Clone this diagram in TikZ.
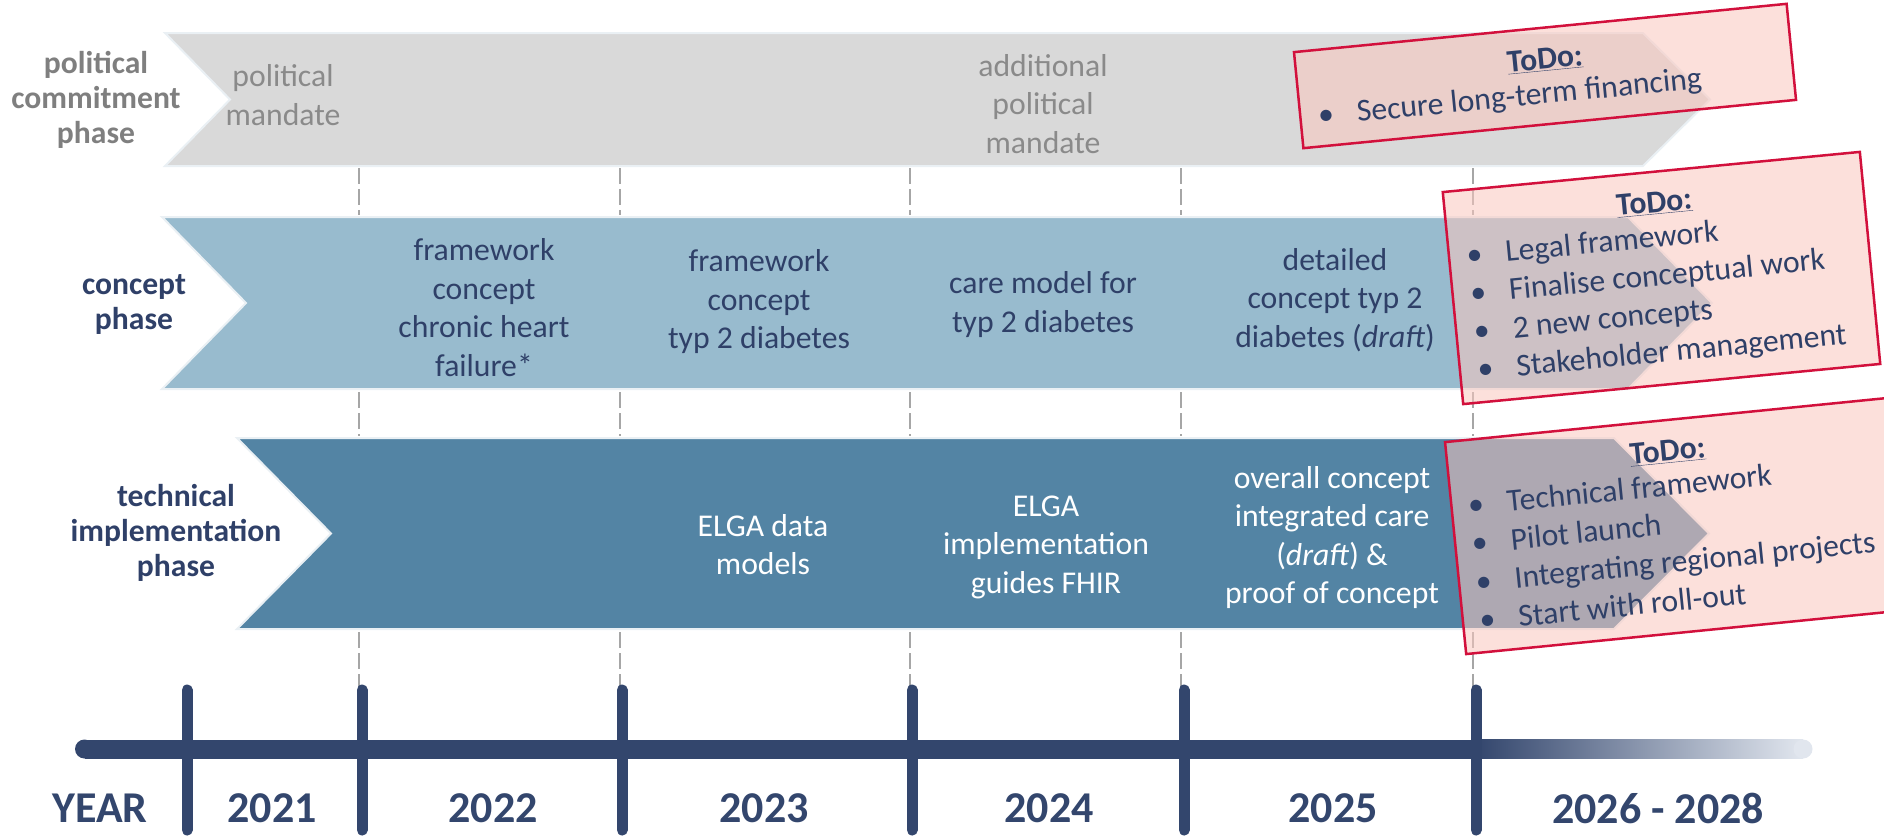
\documentclass[tikz,border=0pt]{standalone}
\usepackage{fontspec}
\setmainfont{Carlito}
\definecolor{navy}{HTML}{33466D}
\definecolor{navytext}{HTML}{2F4068}
\definecolor{polgray}{HTML}{D9D9D9}
\definecolor{poltext}{HTML}{8A8A8A}
\definecolor{pollabel}{HTML}{7F7F7F}
\definecolor{concfill}{HTML}{98BBCE}
\definecolor{techfill}{HTML}{5384A4}
\definecolor{pinkfill}{RGB}{250,199,190}
\definecolor{crimson}{HTML}{D2103C}
\definecolor{dashgray}{HTML}{A6A6A6}
\definecolor{fadeend}{HTML}{E1E6EE}
\definecolor{bandedge}{HTML}{EAF0F4}
\begin{document}
\begin{tikzpicture}[x=1pt,y=-1pt,
  bandtext/.style={align=center, font=\fontsize{31.7}{38.5}\selectfont, inner sep=0pt},
  phaselabel/.style={align=center, font=\bfseries\fontsize{31.6}{35}\selectfont, inner sep=0pt},
  yearlabel/.style={font=\bfseries\fontsize{44}{50}\selectfont, text=navy, inner sep=0pt},
  yeardash/.style={dashgray, line width=2pt, dash pattern=on 16pt off 5pt},
  yeartick/.style={navy, line width=11pt, line cap=round},
  bandshape/.style={draw=bandedge, line width=2pt},
  todobox/.style={draw=crimson, line width=2.5pt, fill=pinkfill, fill opacity=0.55, inner sep=0pt},
  todohead/.style={font=\bfseries\fontsize{31.7}{38}\selectfont, text=navytext, inner sep=0pt, anchor=base},
  todoitem/.style={font=\fontsize{31.7}{38}\selectfont, text=navytext, inner sep=0pt, anchor=base west},
]
\useasboundingbox (0,0) rectangle (1884,836);

% ---- bands
\path[bandshape, fill=polgray] (165,33) -- (1643,33) -- (1710,99.5) -- (1643,166) -- (165,166) -- (230,99.5) -- cycle;
\path[bandshape, fill=concfill] (162,217) -- (1628,217) -- (1712,303) -- (1628,389) -- (162,389) -- (246,303) -- cycle;
\path[bandshape, fill=techfill] (237,438) -- (1614,438) -- (1709,533.5) -- (1614,629) -- (237,629) -- (331,533.5) -- cycle;

% ---- dashed year separators
\foreach \x in {359,620,910,1181,1473}{
  \draw[yeardash] (\x,168) -- (\x,215);
  \draw[yeardash] (\x,392) -- (\x,436);
  \draw[yeardash] (\x,632) -- (\x,690);
}

% ---- phase labels
\node[phaselabel, text=pollabel] (lpol) at (96,100) {political\\commitment\\phase};
\node[phaselabel, text=navytext] (lcon) at (134,304.5) {concept\\phase};
\node[phaselabel, text=navytext] (ltec) at (176,533) {technical\\implementation\\phase};

% ---- political texts
\node[bandtext, text=poltext] (p1) at (283,95) {political\\mandate};
\node[bandtext, text=poltext] (p2) at (1043,104) {additional\\political\\mandate};

% ---- concept texts
\node[bandtext, text=navytext] (c1) at (484,307.5) {framework\\concept\\chronic heart\\failure*};
\node[bandtext, text=navytext] (c2) at (759,302) {framework\\concept\\typ 2 diabetes};
\node[bandtext, text=navytext] (c3) at (1043,304.5) {care model for\\typ 2 diabetes};
\node[bandtext, text=navytext] (c4) at (1335,300) {detailed\\concept typ 2\\diabetes (\textit{draft})};

% ---- technical texts
\node[bandtext, text=white] (t1) at (763,544.5) {ELGA data\\models};
\node[bandtext, text=white] (t2) at (1046,547) {ELGA\\implementation\\guides FHIR};
\node[bandtext, text=white] (t3) at (1332,537.5) {overall concept\\integrated care\\(\textit{draft}) \&\\proof of concept};

% ---- ToDo box 1
\begin{scope}[shift={(1545,76)}, rotate=5.6, transform shape]
  \node[todobox, minimum width=495pt, minimum height=96.5pt] (b1) at (0,0) {};
  \node[todohead] (b1h) at (1.5,-7) {\underline{ToDo:}};
  \node[todoitem] (b1i1) at (-230,27.5) {\makebox[39pt][l]{\textbullet}Secure long-term financing};
\end{scope}

% ---- ToDo box 2
\begin{scope}[shift={(1661.5,278)}, rotate=5.5, transform shape]
  \node[todobox, minimum width=419pt, minimum height=213pt] (b2) at (0,0) {};
  \node[todohead] (b2h) at (0,-66) {\underline{ToDo:}};
  \node[todoitem] (b2i1) at (-192,-31) {\makebox[39pt][l]{\textbullet}Legal framework};
  \node[todoitem] (b2i2) at (-192,7.3) {\makebox[39pt][l]{\textbullet}Finalise conceptual work};
  \node[todoitem] (b2i3) at (-192,45.6) {\makebox[39pt][l]{\textbullet}2 new concepts};
  \node[todoitem] (b2i4) at (-192,83.9) {\makebox[39pt][l]{\textbullet}Stakeholder management};
\end{scope}

% ---- ToDo box 3
\begin{scope}[shift={(1677,526)}, rotate=5.7, transform shape]
  \node[todobox, minimum width=445pt, minimum height=213pt] (b3) at (0,0) {};
  \node[todohead] (b3h) at (-2,-65.5) {\underline{ToDo:}};
  \node[todoitem] (b3i1) at (-206,-31) {\makebox[39pt][l]{\textbullet}Technical framework};
  \node[todoitem] (b3i2) at (-206,7.5) {\makebox[39pt][l]{\textbullet}Pilot launch};
  \node[todoitem] (b3i3) at (-206,46) {\makebox[39pt][l]{\textbullet}Integrating regional projects};
  \node[todoitem] (b3i4) at (-206,84.7) {\makebox[39pt][l]{\textbullet}Start with roll-out};
\end{scope}

% ---- timeline
\fill[navy] (84.5,749) circle (9.5);
\fill[navy] (84.5,739.5) rectangle (1478,758.5);
\fill[left color=navy, right color=fadeend] (1476,739.5) rectangle (1803,758.5);
\fill[fadeend] (1803,749) circle (9.5);
\foreach \x in {187,362,622,912,1184,1476}{
  \draw[yeartick] (\x,690) -- (\x,830);
}

% ---- year labels
\node[yearlabel] (yy) at (100,808) {YEAR};
\node[yearlabel] (y21) at (272,808) {2021};
\node[yearlabel] (y22) at (493,808) {2022};
\node[yearlabel] (y23) at (764,808) {2023};
\node[yearlabel] (y24) at (1049,808) {2024};
\node[yearlabel] (y25) at (1333,808) {2025};
\node[yearlabel] (y26) at (1658,808) {2026 - 2028};
\end{tikzpicture}
\end{document}
